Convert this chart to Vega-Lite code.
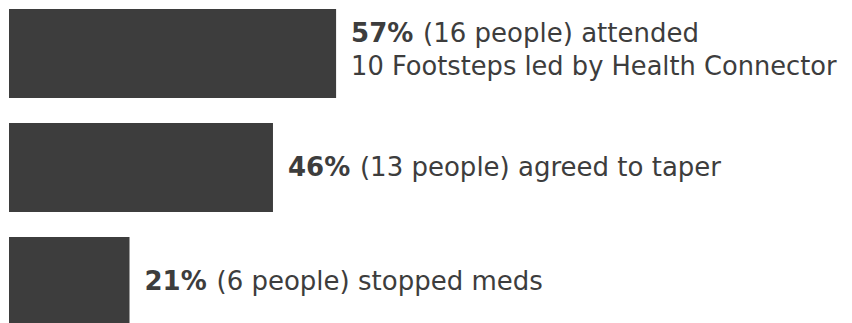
{
  "$schema": "https://vega.github.io/schema/vega-lite/v6.json",
  "width": 843,
  "height": 317,
  "autosize": {"type": "none"},
  "padding": {"left": 9, "top": 9, "right": 0, "bottom": 0},
  "background": "white",
  "config": {"view": {"stroke": null}},
  "data": {
    "values": [
      {"item": "attended", "pct": 57, "bold": "57%", "rest": "(16 people) attended", "line2": "10 Footsteps led by Health Connector"},
      {"item": "taper", "pct": 46, "bold": "46%", "rest": "(13 people) agreed to taper", "line2": ""},
      {"item": "stopped", "pct": 21, "bold": "21%", "rest": "(6 people) stopped meds", "line2": ""}
    ]
  },
  "encoding": {
    "y": {"field": "item", "type": "nominal", "sort": null, "axis": null, "scale": {"paddingInner": 0.22, "paddingOuter": 0}},
    "x": {"field": "pct", "type": "quantitative", "axis": null, "scale": {"domain": [0, 146.9], "nice": false}}
  },
  "layer": [
    {"mark": {"type": "bar", "color": "#3d3d3d"}},
    {"transform": [{"filter": "datum.line2 == ''"}],
     "layer": [
       {"mark": {"type": "text", "align": "left", "baseline": "middle", "dx": 15, "font": "DejaVu Sans", "fontSize": 26, "fontWeight": "bold", "color": "#3d3d3d"},
        "encoding": {"text": {"field": "bold"}}},
       {"mark": {"type": "text", "align": "left", "baseline": "middle", "dx": 87, "font": "DejaVu Sans", "fontSize": 26, "color": "#3d3d3d"},
        "encoding": {"text": {"field": "rest"}}}
     ]},
    {"transform": [{"filter": "datum.line2 != ''"}],
     "layer": [
       {"mark": {"type": "text", "align": "left", "baseline": "middle", "dx": 15, "dy": -19, "font": "DejaVu Sans", "fontSize": 26, "fontWeight": "bold", "color": "#3d3d3d"},
        "encoding": {"text": {"field": "bold"}}},
       {"mark": {"type": "text", "align": "left", "baseline": "middle", "dx": 87, "dy": -19, "font": "DejaVu Sans", "fontSize": 26, "color": "#3d3d3d"},
        "encoding": {"text": {"field": "rest"}}},
       {"mark": {"type": "text", "align": "left", "baseline": "middle", "dx": 15, "dy": 14, "font": "DejaVu Sans", "fontSize": 25.7, "color": "#3d3d3d"},
        "encoding": {"text": {"field": "line2"}}}
     ]}
  ]
}
